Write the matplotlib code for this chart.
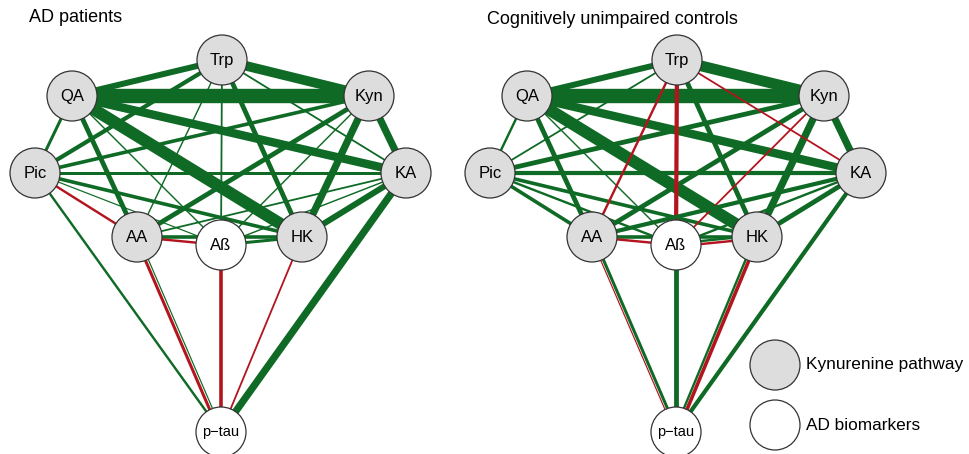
import matplotlib
matplotlib.use("Agg")
import matplotlib.pyplot as plt
from matplotlib.patches import Circle
import numpy as np

plt.rcParams['font.family'] = ['Liberation Sans', 'DejaVu Sans']

GREEN = '#0e6a25'
RED = '#b3141e'

# node names, kind (k = kynurenine pathway, b = AD biomarker)
nodes = ['Trp', 'QA', 'Kyn', 'Pic', 'KA', 'AA', 'Aß', 'HK', 'p\u2212tau']
kinds = ['k', 'k', 'k', 'k', 'k', 'k', 'b', 'k', 'b']
# layout (pixel coords inside one panel, origin at panel left)
node_x = [222, 72, 369, 35, 406, 137, 221, 302, 221]
node_y = [60, 96, 96, 173, 173, 237, 245, 237, 432]

# edges: (from, to, weight px, sign, offset)
edges_ad = [
    ('QA', 'Kyn', 12, '+', 0), ('Trp', 'Kyn', 8, '+', 0), ('QA', 'HK', 10, '+', 0),
    ('QA', 'KA', 7, '+', 0), ('Trp', 'QA', 5, '+', 0), ('Kyn', 'KA', 6, '+', 0),
    ('Kyn', 'HK', 6, '+', 0), ('KA', 'p\u2212tau', 6, '+', 0), ('KA', 'HK', 5, '+', 0),
    ('Trp', 'HK', 4, '+', 0), ('QA', 'AA', 4, '+', 0), ('Kyn', 'AA', 4, '+', 0),
    ('Trp', 'Pic', 3.5, '+', 0), ('Kyn', 'Pic', 3, '+', 0), ('Pic', 'HK', 3, '+', 0),
    ('Pic', 'KA', 2.5, '+', 0), ('QA', 'Pic', 2.5, '+', 0), ('AA', 'HK', 3, '+', 0),
    ('Pic', 'p\u2212tau', 2, '+', 0), ('Pic', 'AA', 2, '-', 0), ('Pic', 'Aß', 1, '+', 0),
    ('QA', 'Aß', 1.2, '+', 0), ('Trp', 'AA', 1.2, '+', 0), ('Trp', 'Aß', 1.5, '+', 0),
    ('Trp', 'KA', 1.5, '+', 0), ('Kyn', 'Aß', 1.2, '+', 0), ('KA', 'AA', 1.5, '+', 0),
    ('KA', 'Aß', 1.2, '+', 0), ('AA', 'Aß', 2, '-', 0), ('Aß', 'HK', 2.5, '+', 0),
    ('AA', 'p\u2212tau', 2.5, '-', 1.5), ('AA', 'p\u2212tau', 1, '+', -1.5),
    ('Aß', 'p\u2212tau', 3, '-', 0), ('HK', 'p\u2212tau', 1.5, '-', 0),
]

edges_cu = [
    ('QA', 'Kyn', 12, '+', 0), ('Trp', 'Kyn', 9, '+', 0), ('QA', 'HK', 10, '+', 0),
    ('QA', 'KA', 7, '+', 0), ('Trp', 'QA', 5, '+', 0), ('Kyn', 'KA', 6, '+', 0),
    ('Kyn', 'HK', 6, '+', 0), ('Trp', 'HK', 4, '+', 0), ('QA', 'AA', 4, '+', 0),
    ('Kyn', 'AA', 4, '+', 0), ('Trp', 'Pic', 1.5, '+', 0), ('Kyn', 'Pic', 4, '+', 0),
    ('Pic', 'KA', 3.5, '+', 0), ('Pic', 'HK', 3, '+', 0), ('Pic', 'AA', 3, '+', 0),
    ('Pic', 'Aß', 2, '+', 0), ('QA', 'Pic', 2, '+', 0), ('QA', 'Aß', 1.2, '+', 0),
    ('Trp', 'AA', 2, '-', 0), ('Trp', 'Aß', 3.5, '-', 0), ('Trp', 'KA', 1.5, '-', 0),
    ('Kyn', 'Aß', 1.5, '-', 0), ('KA', 'AA', 3.5, '+', 0), ('KA', 'HK', 4, '+', 0),
    ('KA', 'Aß', 2, '+', 0), ('KA', 'p\u2212tau', 3.5, '+', 0), ('AA', 'HK', 3, '+', 0),
    ('AA', 'Aß', 2, '-', 0), ('Aß', 'HK', 2, '-', 1.5), ('Aß', 'HK', 2, '+', -1.5),
    ('AA', 'p\u2212tau', 2.5, '+', -1.5), ('AA', 'p\u2212tau', 1, '-', 1.2),
    ('Aß', 'p\u2212tau', 4, '+', 0),
    ('HK', 'p\u2212tau', 3, '-', -1.5), ('HK', 'p\u2212tau', 2, '+', 1.8),
]

W, H = 969, 454
PX = 72 / 100 * 1.2  # px -> points, slightly heavier
R = 25

fig = plt.figure(figsize=(W / 100, H / 100), dpi=100)
ax = fig.add_axes([0, 0, 1, 1])
ax.set_xlim(0, W)
ax.set_ylim(H, 0)
ax.axis('off')


def draw_panel(x0, edges, title, tx, ty):
    pos = {n: (x0 + x, y) for n, x, y in zip(nodes, node_x, node_y)}
    for a, b, w, s, off in edges:
        (xa, ya), (xb, yb) = pos[a], pos[b]
        d = np.array([xb - xa, yb - ya])
        nrm = np.array([-d[1], d[0]]) / np.hypot(*d)
        xs = np.array([xa, xb]) + nrm[0] * off
        ys = np.array([ya, yb]) + nrm[1] * off
        ax.plot(xs, ys, color=GREEN if s == '+' else RED,
                lw=w * PX, solid_capstyle='butt', zorder=1)
    for n, k in zip(nodes, kinds):
        x, y = pos[n]
        ax.add_patch(Circle((x, y), R, facecolor='#dddddd' if k == 'k' else 'white',
                            edgecolor='#333333', lw=0.9, zorder=3))
        ax.text(x, y, n, ha='center', va='center', fontsize=12 if n != 'p\u2212tau' else 10.5,
                zorder=4)
    ax.text(tx, ty, title, ha='left', va='center', fontsize=13)


draw_panel(0, edges_ad, 'AD patients', 29, 18)
draw_panel(455, edges_cu, 'Cognitively unimpaired controls', 487, 20)

# legend
for (y, fc, lab) in [(365, '#dddddd', 'Kynurenine pathway'), (425, 'white', 'AD biomarkers')]:
    ax.add_patch(Circle((775, y), R, facecolor=fc, edgecolor='#333333', lw=0.9, zorder=3))
    ax.text(806, y, lab, ha='left', va='center', fontsize=12.4)

fig.savefig('out.png', dpi=100)
